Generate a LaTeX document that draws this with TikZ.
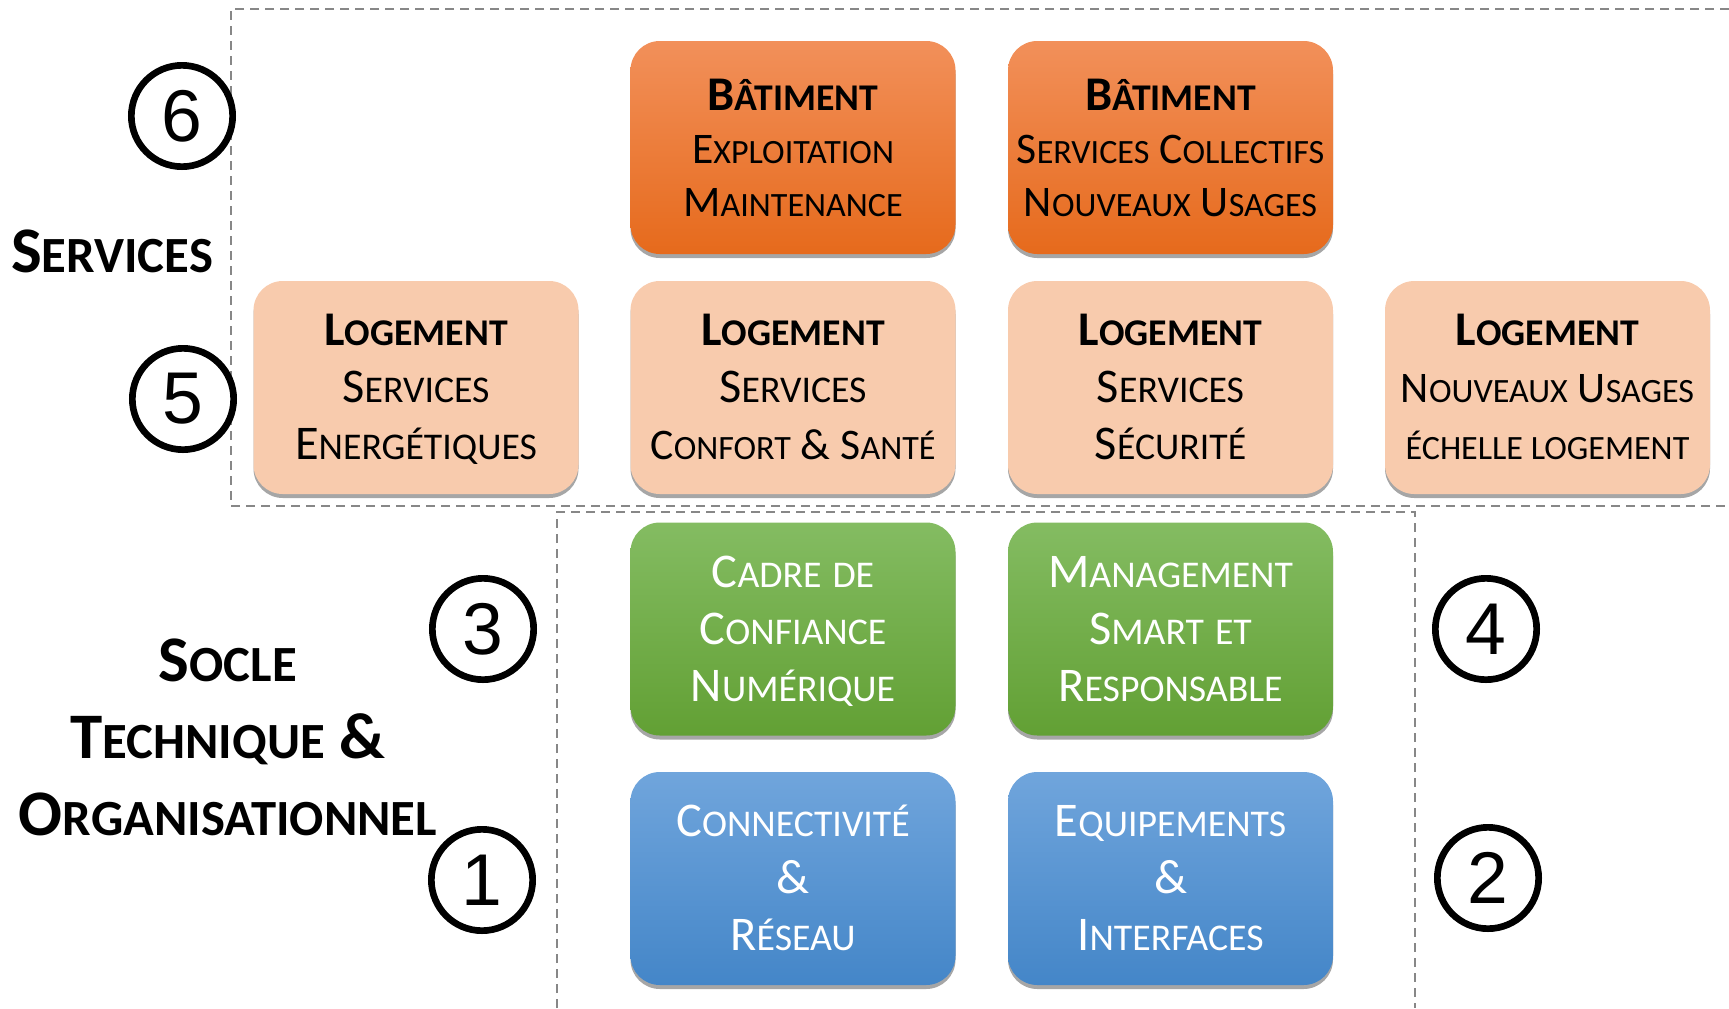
\documentclass[tikz,border=0pt]{standalone}
\usepackage{fontspec}
\setmainfont{Carlito}
\newfontfamily\chiffrefont{Liberation Sans}
\usetikzlibrary{shadows}

\definecolor{orangeHaut}{RGB}{242,144,90}
\definecolor{orangeBas}{RGB}{230,106,28}
\definecolor{peche}{RGB}{248,203,173}
\definecolor{vertHaut}{RGB}{132,188,98}
\definecolor{vertBas}{RGB}{98,160,52}
\definecolor{bleuHaut}{RGB}{112,165,220}
\definecolor{bleuBas}{RGB}{68,134,200}
\definecolor{pointille}{RGB}{135,135,135}

\makeatletter
\newcommand\petit[1]{{\fontsize{\fpeval{0.78*\f@size}}{\f@baselineskip}\selectfont #1}}
\makeatother
\newcommand\pc[2]{#1\petit{#2}}
\newcommand\reduit{\fontsize{32.75}{42.75}\selectfont}
\newcommand\reduitserre{\fontsize{32.75}{39.75}\selectfont}

\begin{document}
\begin{tikzpicture}[x=0.75pt,y=0.75pt,yscale=-1,xscale=1,
  bloc/.style={rounded corners=22pt, minimum width=243.75pt, minimum height=159.75pt,
    inner sep=0pt, align=center, text height=108pt, text depth=0pt,
    font=\fontsize{36.3}{42.75}\selectfont,
    drop shadow={shadow xshift=0pt, shadow yshift=-3pt, opacity=0.35, fill=black}},
  blocorange/.style={bloc, top color=orangeHaut, bottom color=orangeBas, text=black,
    text height=102.75pt, font=\fontsize{36.3}{39.75}\selectfont},
  blocpeche/.style={bloc, fill=peche, text=black},
  blocvert/.style={bloc, top color=vertHaut, bottom color=vertBas, text=white},
  blocbleu/.style={bloc, top color=bleuHaut, bottom color=bleuBas, text=white},
  numero/.style={circle, draw, line width=5pt, minimum size=76pt, inner sep=0pt,
    font=\chiffrefont\fontsize{55}{55}\selectfont},
  titre/.style={align=center, font=\bfseries\fontsize{48.75}{57.75}\selectfont},
  zone/.style={draw=pointille, line width=1.5pt, dash pattern=on 6.75pt off 4.5pt}]
\useasboundingbox (0,0) rectangle (1729,1008);

%Zones en pointilles
\draw[zone] (1729,9) -- (231,9) -- (231,506) -- (1729,506);
\draw[zone] (557,1008) -- (557,512) -- (1415,512) -- (1415,1008);

%Services : batiment
\node[blocorange] (bat1) at (793,147.5) {\textbf{\pc{B}{ÂTIMENT}}\\{\reduitserre\pc{E}{XPLOITATION}}\\{\reduitserre\pc{M}{AINTENANCE}}};
\node[blocorange] (bat2) at (1170.5,147.5) {\textbf{\pc{B}{ÂTIMENT}}\\{\reduitserre\pc{S}{ERVICES} \pc{C}{OLLECTIFS}}\\{\reduitserre\pc{N}{OUVEAUX} \pc{U}{SAGES}}};

%Services : logement
\node[blocpeche] (log1) at (416,387.5) {\textbf{\pc{L}{OGEMENT}}\\\pc{S}{ERVICES}\\\pc{E}{NERGÉTIQUES}};
\node[blocpeche] (log2) at (793,387.5) {\textbf{\pc{L}{OGEMENT}}\\\pc{S}{ERVICES}\\{\reduit\pc{C}{ONFORT} \& \pc{S}{ANTÉ}}};
\node[blocpeche] (log3) at (1170.5,387.5) {\textbf{\pc{L}{OGEMENT}}\\\pc{S}{ERVICES}\\\pc{S}{ÉCURITÉ}};
\node[blocpeche] (log4) at (1547.5,387.5) {\textbf{\pc{L}{OGEMENT}}\\{\reduit\pc{N}{OUVEAUX} \pc{U}{SAGES}}\\{\reduit\petit{ÉCHELLE LOGEMENT}}};

%Socle : organisationnel
\node[blocvert] (cadre) at (793,629) {\pc{C}{ADRE} \petit{DE}\\\pc{C}{ONFIANCE}\\\pc{N}{UMÉRIQUE}};
\node[blocvert] (manag) at (1170.5,629) {\pc{M}{ANAGEMENT}\\\pc{S}{MART} \petit{ET}\\\pc{R}{ESPONSABLE}};

%Socle : technique
\node[blocbleu] (connect) at (793,878.5) {\pc{C}{ONNECTIVITÉ}\\\&\\\pc{R}{ÉSEAU}};
\node[blocbleu] (equip) at (1170.5,878.5) {\pc{E}{QUIPEMENTS}\\\&\\\pc{I}{NTERFACES}};

%Numeros
\node[numero] (n6) at (182,116) {6};
\node[numero] (n5) at (183,399) {5};
\node[numero] (n3) at (483,629) {3};
\node[numero] (n1) at (482,880) {1};
\node[numero] (n4) at (1486,629) {4};
\node[numero] (n2) at (1488,878) {2};

% Text Node
\node[titre] (tservices) at (112,251) {\pc{S}{ERVICES}};
% Text Node
\node[titre] (tsocle) at (228,737) {\pc{S}{OCLE}\\\pc{T}{ECHNIQUE} \&\\\pc{O}{RGANISATIONNEL}};
\end{tikzpicture}
\end{document}
